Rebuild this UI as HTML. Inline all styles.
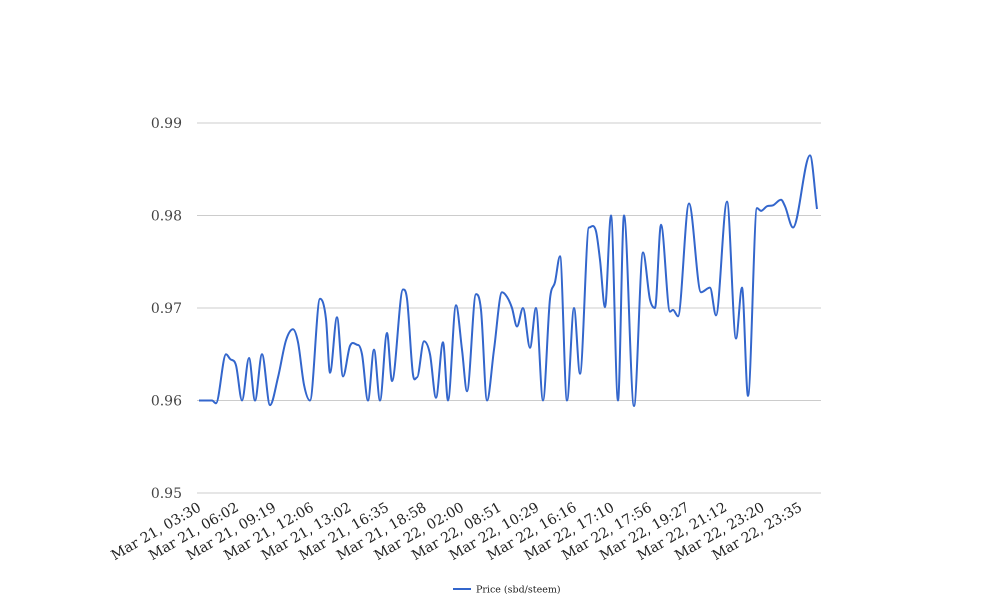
<!DOCTYPE html>
<html><head><meta charset="utf-8"><style>
html,body{margin:0;padding:0;background:#fff;width:1008px;height:616px;overflow:hidden}
svg text{font-family:"DejaVu Serif","Liberation Serif",serif}
</style></head><body>
<svg id="chart" width="1008" height="616" xmlns="http://www.w3.org/2000/svg">
<g id="grid"></g>
<g id="yaxis"></g>
<g id="xaxis"></g>
<path id="line" fill="none" stroke="#3366cc" stroke-width="2"/>
<g>
<line x1="453" y1="589" x2="471" y2="589" stroke="#3366cc" stroke-width="2"/>
<text x="476" y="592.5" font-size="9.5" fill="#222">Price (sbd/steem)</text>
</g>
</svg>
<script>
const xLabels=["Mar 21, 03:30","Mar 21, 06:02","Mar 21, 09:19","Mar 21, 12:06","Mar 21, 13:02","Mar 21, 16:35","Mar 21, 18:58","Mar 22, 02:00","Mar 22, 08:51","Mar 22, 10:29","Mar 22, 16:16","Mar 22, 17:10","Mar 22, 17:56","Mar 22, 19:27","Mar 22, 21:12","Mar 22, 23:20","Mar 22, 23:35"];
const yTicks=[0.95,0.96,0.97,0.98,0.99];
const sampleIdx=[0,13,17,27,31,37,43,50,56,63,71,79,87,94,99,105,111,121,127,131,138,144,151,159,163,169,175,181,188,193,204,208,214,218,225,231,237,244,249,257,263,268,277,282,288,295,303,308,313,318,324,331,337,344,351,356,361,368,375,381,390,397,401,406,412,419,425,435,444,451,456,462,471,474,479,490,502,511,517,528,537,543,549,558,562,568,574,582,586,594,611,618];
const prices=[0.960,0.960,0.9597,0.965,0.9645,0.9638,0.960,0.9646,0.960,0.965,0.9595,0.9625,0.9665,0.9677,0.9663,0.9617,0.960,0.971,0.9688,0.963,0.969,0.9626,0.9659,0.966,0.965,0.960,0.9655,0.960,0.9673,0.9621,0.972,0.971,0.9628,0.9625,0.9664,0.965,0.9603,0.9663,0.960,0.9703,0.9655,0.961,0.9715,0.9698,0.960,0.9655,0.9717,0.9712,0.970,0.968,0.970,0.9657,0.970,0.960,0.971,0.9728,0.9756,0.960,0.970,0.9629,0.9787,0.9783,0.9752,0.9701,0.980,0.960,0.980,0.9594,0.976,0.9709,0.970,0.979,0.9696,0.9698,0.9691,0.9813,0.9717,0.9722,0.9692,0.9815,0.9667,0.9722,0.9605,0.9808,0.9805,0.981,0.9811,0.9817,0.981,0.9787,0.9865,0.9807];
const NS="http://www.w3.org/2000/svg";
const X0=199,X1=817,yMin=0.95,yMax=0.99,Y0=493,Y1=123;
const xs=i=>X0+(i-sampleIdx[0])/(sampleIdx[sampleIdx.length-1]-sampleIdx[0])*(X1-X0);
const ys=v=>Y0-(v-yMin)/(yMax-yMin)*(Y0-Y1);
const grid=document.getElementById('grid'),ya=document.getElementById('yaxis'),xa=document.getElementById('xaxis');
yTicks.forEach(t=>{
const l=document.createElementNS(NS,'line');


l.setAttribute('x1',197);l.setAttribute('x2',821);l.setAttribute('y1',ys(t));l.setAttribute('y2',ys(t));
l.setAttribute('stroke','#cccccc');l.setAttribute('stroke-width','1');grid.appendChild(l);
const tx=document.createElementNS(NS,'text');


tx.setAttribute('x',182);tx.setAttribute('y',ys(t)+5);tx.setAttribute('text-anchor','end');
tx.setAttribute('font-size','14');tx.setAttribute('fill','#444');tx.textContent=t.toFixed(2);ya.appendChild(tx);
});
xLabels.forEach((s,i)=>{
const x=202+i*(803-202)/(xLabels.length-1),y=510;
const tx=document.createElementNS(NS,'text');


tx.setAttribute('x',x);tx.setAttribute('y',y);tx.setAttribute('text-anchor','end');
tx.setAttribute('font-size','14');tx.setAttribute('fill','#222');
tx.setAttribute('transform','rotate(-30 '+x+' '+y+')');tx.textContent=s;xa.appendChild(tx);
});
// monotone cubic
const P=sampleIdx.map((s,i)=>[xs(s),ys(prices[i])]);
const n=P.length,m=[],d=[];
for(let i=0;i<n-1;i++)d.push((P[i+1][1]-P[i][1])/(P[i+1][0]-P[i][0]));
for(let i=0;i<n;i++){
if(i==0)m.push(d[0]);else if(i==n-1)m.push(d[n-2]);
else m.push(d[i-1]*d[i]<=0?0:(d[i-1]+d[i])/2);
}
let p='M'+P[0][0]+','+P[0][1];
for(let i=0;i<n-1;i++){
const h=(P[i+1][0]-P[i][0])/3;
p+=' C'+(P[i][0]+h)+','+(P[i][1]+m[i]*h)+' '+(P[i+1][0]-h)+','+(P[i+1][1]-m[i+1]*h)+' '+P[i+1][0]+','+P[i+1][1];
}
document.getElementById('line').setAttribute('d',p);
</script>
</body></html>
